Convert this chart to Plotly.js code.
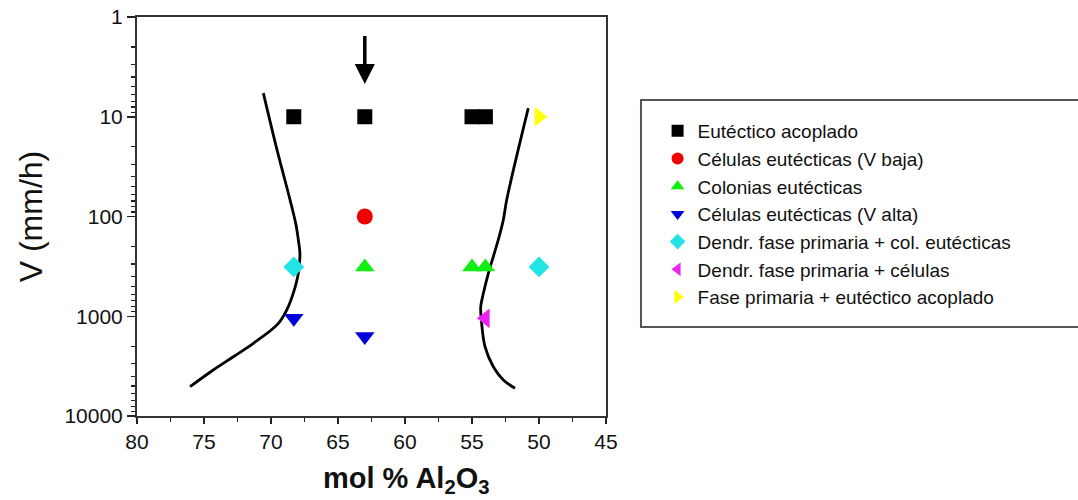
<!DOCTYPE html>
<html>
<head>
<meta charset="utf-8">
<script src="https://cdn.plot.ly/plotly-3.0.1.min.js"></script>
<style>html,body{margin:0;padding:0;background:#fff;}#chart{width:1078px;height:500px;}</style>
</head>
<body>
<div id="chart"></div>
<script>
// ---- data (mol % Al2O3, V in mm/h) ----
const seriesNames = [
  "Eutéctico acoplado",
  "Células eutécticas (V baja)",
  "Colonias eutécticas",
  "Células eutécticas (V alta)",
  "Dendr. fase primaria + col. eutécticas",
  "Dendr. fase primaria + células",
  "Fase primaria + eutéctico acoplado"
];
const eutecticoX = [68.3, 63, 55, 54];
const eutecticoY = [10, 10, 10, 10];
const celulasBajaX = [63];
const celulasBajaY = [100];
const coloniasX = [63, 55, 54];
const coloniasY = [320, 320, 320];
const celulasAltaX = [68.3, 63];
const celulasAltaY = [1050, 1600];
const dendrColX = [68.3, 50];
const dendrColY = [320, 320];
const dendrCelX = [54];
const dendrCelY = [1050];
const faseEutX = [50];
const faseEutY = [10];

// boundary curves
const leftCurveX = [70.57, 69.55, 68.58, 68.13, 67.96, 67.84, 67.96, 68.34, 68.83, 69.5, 71.32, 72.81, 74.31, 76.04];
const leftCurveY = [5.8, 21.5, 68, 122, 172, 234, 371, 589, 866, 1200, 1866, 2545, 3459, 5080];
const rightCurveX = [50.8, 52.41, 52.66, 53.04, 53.78, 54.15, 54.35, 54.28, 54.03, 53.41, 52.66, 51.79];
const rightCurveY = [8.2, 68, 108, 172, 371, 589, 806, 1178, 2020, 3210, 4360, 5270];

// arrow (tail / head) at mol % = 63
const arrowX = 63;
const arrowTailY = 1.5;
const arrowHeadY = 4.7;

// axis ticks
const yTickVals = [1, 10, 100, 1000, 10000];
const yTickText = ["1", "10", "100", "1000", "10000"];
const yMinorVals = [];
[1, 10, 100, 1000].forEach(d => { for (let k = 2; k <= 9; k++) yMinorVals.push(d * k); });

const FONT = "Liberation Sans, Arial, sans-serif";

function pts(name, x, y, symbol, color, size) {
  return {
    type: "scatter", mode: "markers", name: name, x: x, y: y,
    marker: {symbol: symbol, color: color, size: size, line: {width: 0}},
    showlegend: true, cliponaxis: false
  };
}

const traces = [
  {type: "scatter", mode: "lines", x: leftCurveX, y: leftCurveY, showlegend: false,
   line: {color: "#000", width: 2.8, shape: "spline", smoothing: 1}},
  {type: "scatter", mode: "lines", x: rightCurveX, y: rightCurveY, showlegend: false,
   line: {color: "#000", width: 2.8, shape: "spline", smoothing: 1}},
  pts(seriesNames[0], eutecticoX, eutecticoY, "square", "#000000", 15),
  pts(seriesNames[1], celulasBajaX, celulasBajaY, "circle", "#ee0000", 16),
  pts(seriesNames[2], coloniasX, coloniasY, "triangle-up", "#11ee11", 17),
  pts(seriesNames[3], celulasAltaX, celulasAltaY, "triangle-down", "#0000dd", 17),
  pts(seriesNames[4], dendrColX, dendrColY, "diamond", "#22e4e4", 16),
  pts(seriesNames[5], dendrCelX, dendrCelY, "triangle-left", "#ee22ee", 17),
  pts(seriesNames[6], faseEutX, faseEutY, "triangle-right", "#ffff00", 17)
];

const layout = {
  width: 1078, height: 500,
  margin: {l: 137, r: 472, t: 17, b: 84},
  paper_bgcolor: "#fff", plot_bgcolor: "#fff",
  font: {family: FONT, color: "#111", size: 20},
  showlegend: true,
  legend: {
    x: 1.11, xanchor: "left", y: 0.762, yanchor: "top",
    bgcolor: "rgba(0,0,0,0)", borderwidth: 0,
    font: {family: FONT, size: 19, color: "#111"},
    itemsizing: "constant", tracegroupgap: 0
  },
  xaxis: {
    range: [80, 45], tickmode: "linear", tick0: 45, dtick: 5,
    ticks: "outside", ticklen: 6, tickwidth: 1.5, tickcolor: "#222",
    minor: {ticks: "outside", ticklen: 4, tickwidth: 1.2, tickcolor: "#222", dtick: 2.5, tick0: 45, showgrid: false},
    showline: true, linecolor: "#333", linewidth: 2, mirror: true,
    showgrid: false, zeroline: false,
    tickfont: {family: FONT, size: 21, color: "#111"}
  },
  yaxis: {
    type: "log", range: [4, 0],
    tickmode: "array", tickvals: yTickVals, ticktext: yTickText,
    ticks: "outside", ticklen: 8, tickwidth: 1.5, tickcolor: "#222",
    minor: {tickmode: "array", tickvals: yMinorVals, ticks: "outside", ticklen: 4, tickwidth: 1.2, tickcolor: "#222", showgrid: false},
    showline: true, linecolor: "#333", linewidth: 2, mirror: true,
    showgrid: false, zeroline: false,
    tickfont: {family: FONT, size: 21, color: "#111"},
    title: {text: "V (mm/h)", standoff: 12, font: {family: FONT, size: 32, color: "#111"}}
  },
  annotations: [{
    x: arrowX, y: Math.log10(arrowHeadY), xref: "x", yref: "y",
    ax: arrowX, ay: Math.log10(arrowTailY), axref: "x", ayref: "y",
    text: "", showarrow: true, arrowhead: 2, arrowsize: 1.15, arrowwidth: 3.5, arrowcolor: "#000"
  }, {
    text: "<b>mol % Al<sub>2</sub>O<sub>3</sub></b>", showarrow: false,
    xref: "paper", yref: "paper", x: 0.574, xanchor: "center", y: -0.16, yanchor: "middle",
    font: {family: FONT, size: 29, color: "#111"}
  }],
  shapes: [{
    type: "rect", xref: "paper", yref: "paper",
    x0: 1.0746, x1: 2.012, y0: 0.223, y1: 0.792,
    line: {color: "#555", width: 2}, fillcolor: "rgba(0,0,0,0)", layer: "below"
  }]
};

Plotly.newPlot("chart", traces, layout, {displayModeBar: false, staticPlot: true});
</script>
</body>
</html>
